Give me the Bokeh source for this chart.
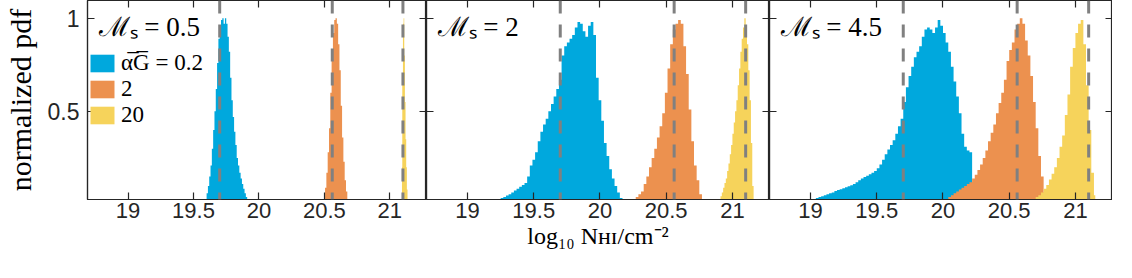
import numpy as np
from bokeh.plotting import figure
from bokeh.models import (Range1d, LinearAxis, FixedTicker, Span, Label,
                          Legend, LegendItem)
from bokeh.layouts import row
from bokeh.embed import file_html
from bokeh.resources import INLINE

# ---------------- data ----------------
x_ticks = [19, 19.5, 20, 20.5, 21]
x_tick_labels = ["19", "19.5", "20", "20.5", "21"]
y_ticks = [0.5, 1]
y_tick_labels = ["0.5", "1"]
mach_labels = ["ℳₛ = 0.5", "ℳₛ = 2", "ℳₛ = 4.5"]
legend_labels = ["α̅G̅ = 0.2", "2", "20"]
x_title = "log₁₀ Nʜɪ/cm⁻²"
y_title = "normalized pdf"
mean_lines = [19.70, 20.56, 21.10]   # dashed reference values (log10 N)

# each histogram: first bin centre, bin width, normalized heights
m05_a02_start, m05_a02_width = 19.595, 0.01
m05_a02 = [0.02, 0.06, 0.10, 0.15, 0.21, 0.30, 0.40, 0.50, 0.62, 0.76, 0.89,
           0.96, 0.99, 1.0, 0.97, 1.0, 0.97, 0.90, 0.82, 0.68, 0.56, 0.47,
           0.39, 0.32, 0.25, 0.21, 0.17, 0.14, 0.11, 0.085, 0.06, 0.04, 0.02]
m05_a2_start, m05_a2_width = 20.50, 0.01
m05_a2 = [0.02, 0.09, 0.17, 0.28, 0.41, 0.60, 0.78, 0.92, 0.99, 1.0, 0.97,
          0.86, 0.72, 0.53, 0.36, 0.23, 0.13, 0.07, 0.03]
m05_a20_start, m05_a20_width = 21.0925, 0.005
m05_a20 = [0.2, 0.7, 0.97, 1.0, 0.8, 0.55, 0.35, 0.2, 0.08, 0.02]

m2_a02_start, m2_a02_width = 19.24, 0.02
m2_a02 = [0.03, 0.035, 0.04, 0.048, 0.055, 0.065, 0.075, 0.085, 0.095, 0.105,
          0.115, 0.15, 0.21, 0.24, 0.28, 0.34, 0.39, 0.43, 0.46, 0.5, 0.54,
          0.58, 0.62, 0.67, 0.8, 0.85, 0.87, 0.89, 0.91, 0.95, 0.98, 0.97,
          0.93, 0.9, 0.96, 0.98, 0.91, 0.68, 0.56, 0.45, 0.33, 0.26, 0.19,
          0.14, 0.1, 0.065, 0.035, 0.015]
m2_a2_start, m2_a2_width = 20.24, 0.02
m2_a2 = [0.02, 0.03, 0.04, 0.055, 0.07, 0.11, 0.15, 0.2, 0.25, 0.3, 0.36,
         0.42, 0.49, 0.6, 0.73, 0.86, 0.94, 0.97, 0.99, 0.97, 0.85, 0.7, 0.51,
         0.34, 0.21, 0.13, 0.055, 0.02]
m2_a20_start, m2_a20_width = 20.905, 0.01
m2_a20 = [0.03, 0.045, 0.065, 0.09, 0.115, 0.14, 0.18, 0.22, 0.27, 0.32, 0.38,
          0.44, 0.5, 0.56, 0.64, 0.73, 0.82, 0.89, 0.95, 1.0, 0.95, 0.86, 0.72,
          0.56, 0.33, 0.1, 0.02]

m45_a02_start, m45_a02_width = 19.01, 0.02
m45_a02 = [0.025, 0.03, 0.035, 0.04, 0.045, 0.05, 0.055, 0.06, 0.065, 0.072,
           0.078, 0.082, 0.088, 0.093, 0.098, 0.104, 0.11, 0.12, 0.13, 0.14,
           0.148, 0.155, 0.162, 0.17, 0.18, 0.195, 0.215, 0.24, 0.27, 0.295,
           0.32, 0.345, 0.38, 0.42, 0.46, 0.55, 0.63, 0.69, 0.74, 0.79, 0.82,
           0.85, 0.9, 0.94, 0.95, 0.94, 0.92, 0.95, 0.99, 0.96, 0.92, 0.87,
           0.82, 0.74, 0.66, 0.58, 0.49, 0.38, 0.31, 0.29, 0.28, 0.12, 0.08,
           0.05, 0.03, 0.015]
m45_a2_start, m45_a2_width = 20.01, 0.02
m45_a2 = [0.02, 0.03, 0.04, 0.05, 0.06, 0.07, 0.08, 0.09, 0.1, 0.11, 0.12,
          0.14, 0.16, 0.185, 0.215, 0.25, 0.29, 0.34, 0.385, 0.43, 0.49, 0.545,
          0.6, 0.67, 0.77, 0.83, 0.87, 0.94, 0.97, 1.0, 0.97, 0.88, 0.8, 0.69,
          0.55, 0.41, 0.26, 0.15, 0.065, 0.03]
m45_a20_start, m45_a20_width = 20.69, 0.02
m45_a20 = [0.03, 0.04, 0.05, 0.065, 0.085, 0.105, 0.135, 0.165, 0.2, 0.25,
           0.31, 0.37, 0.48, 0.59, 0.74, 0.84, 0.92, 0.97, 0.99, 0.86, 0.64,
           0.4, 0.17, 0.05]

panels = [
    [(m05_a02_start, m05_a02_width, m05_a02), (m05_a2_start, m05_a2_width, m05_a2),
     (m05_a20_start, m05_a20_width, m05_a20)],
    [(m2_a02_start, m2_a02_width, m2_a02), (m2_a2_start, m2_a2_width, m2_a2),
     (m2_a20_start, m2_a20_width, m2_a20)],
    [(m45_a02_start, m45_a02_width, m45_a02), (m45_a2_start, m45_a2_width, m45_a2),
     (m45_a20_start, m45_a20_width, m45_a20)],
]

# ---------------- style ----------------
COLORS = ["#00A8DD", "#EC914F", "#F6D35B"]
AX = "#262626"
X_MIN, X_MAX = 18.69, 21.28
Y_MIN, Y_MAX = 0.027, 1.095
FRAME_W, FRAME_H, BOT = 343, 199, 60
LEFT1 = 83
SERIF = "Liberation Serif"
SANS = "Liberation Sans"


def style_axis(ax, ticks, labels, show):
    ax.ticker = FixedTicker(ticks=ticks)
    ax.major_label_overrides = dict(zip(ticks, labels))
    ax.major_tick_in = 7
    ax.major_tick_out = 0
    ax.minor_tick_in = 0
    ax.minor_tick_out = 0
    ax.axis_line_color = AX
    ax.axis_line_width = 1.2
    ax.major_tick_line_color = AX
    ax.major_tick_line_width = 1.2
    ax.major_label_text_font = SANS
    if show:
        ax.major_label_text_color = AX
        ax.major_label_text_font_size = "22px"
        ax.major_label_standoff = 3
    else:
        ax.major_label_text_color = None
        ax.major_label_text_font_size = "1px"
        ax.major_label_standoff = 0


figs = []
for k, hists in enumerate(panels):
    first = k == 0
    p = figure(width=(LEFT1 + FRAME_W) if first else FRAME_W,
               height=FRAME_H + BOT, title=None,
               x_range=Range1d(X_MIN, X_MAX), y_range=Range1d(Y_MIN, Y_MAX),
               output_backend="svg", toolbar_location=None,
               min_border_left=LEFT1 if first else 0, min_border_right=0,
               min_border_top=0, min_border_bottom=BOT)
    p.grid.visible = False
    p.outline_line_color = AX
    p.outline_line_width = 1.2
    p.add_layout(LinearAxis(), "right")
    p.add_layout(LinearAxis(), "above")
    style_axis(p.below[0], x_ticks, x_tick_labels, True)
    style_axis(p.above[0], x_ticks, x_tick_labels, False)
    style_axis(p.left[0], y_ticks, y_tick_labels, first)
    style_axis(p.right[0], y_ticks, y_tick_labels, False)
    if first:
        p.left[0].major_label_text_font_size = "23px"
        p.left[0].major_label_standoff = 8

    rends = []
    for (start, width, heights), color in zip(hists, COLORS):
        centers = start + width * np.arange(len(heights))
        r = p.varea_step(x=centers, y1=np.zeros(len(heights)), y2=heights,
                         step_mode="center", fill_color=color, fill_alpha=1.0)
        rends.append(r)

    for m in mean_lines:
        p.add_layout(Span(location=m, dimension="height", line_color="#808080",
                          line_width=3, line_dash="13 11"))

    p.add_layout(Label(x=11, y=FRAME_H - 26, x_units="screen", y_units="screen",
                       text=mach_labels[k], text_font=SERIF,
                       text_font_size="27px", text_color="black",
                       text_baseline="alphabetic"))

    if first:
        ax = p.left[0]
        ax.axis_label = y_title
        ax.axis_label_text_font = SERIF
        ax.axis_label_text_font_style = "normal"
        ax.axis_label_text_font_size = "30px"
        ax.axis_label_text_color = "black"
        ax.axis_label_standoff = 8
        legend = Legend(items=[LegendItem(label=lab, renderers=[r])
                               for lab, r in zip(legend_labels, rends)],
                        location=(0, 71), padding=0, margin=0, spacing=0,
                        glyph_width=30, glyph_height=22, label_standoff=4,
                        label_height=22, border_line_alpha=0,
                        background_fill_alpha=0, label_text_font=SERIF,
                        label_text_font_size="23px", label_text_color="black")
        p.add_layout(legend)

    if k == 1:
        ax = p.below[0]
        ax.axis_label = x_title
        ax.axis_label_text_font = SERIF
        ax.axis_label_text_font_style = "normal"
        ax.axis_label_text_font_size = "24px"
        ax.axis_label_text_color = "black"
        ax.axis_label_standoff = 2
    figs.append(p)

layout = row(*figs, spacing=0)
open("out.html", "w").write(file_html(layout, INLINE))
